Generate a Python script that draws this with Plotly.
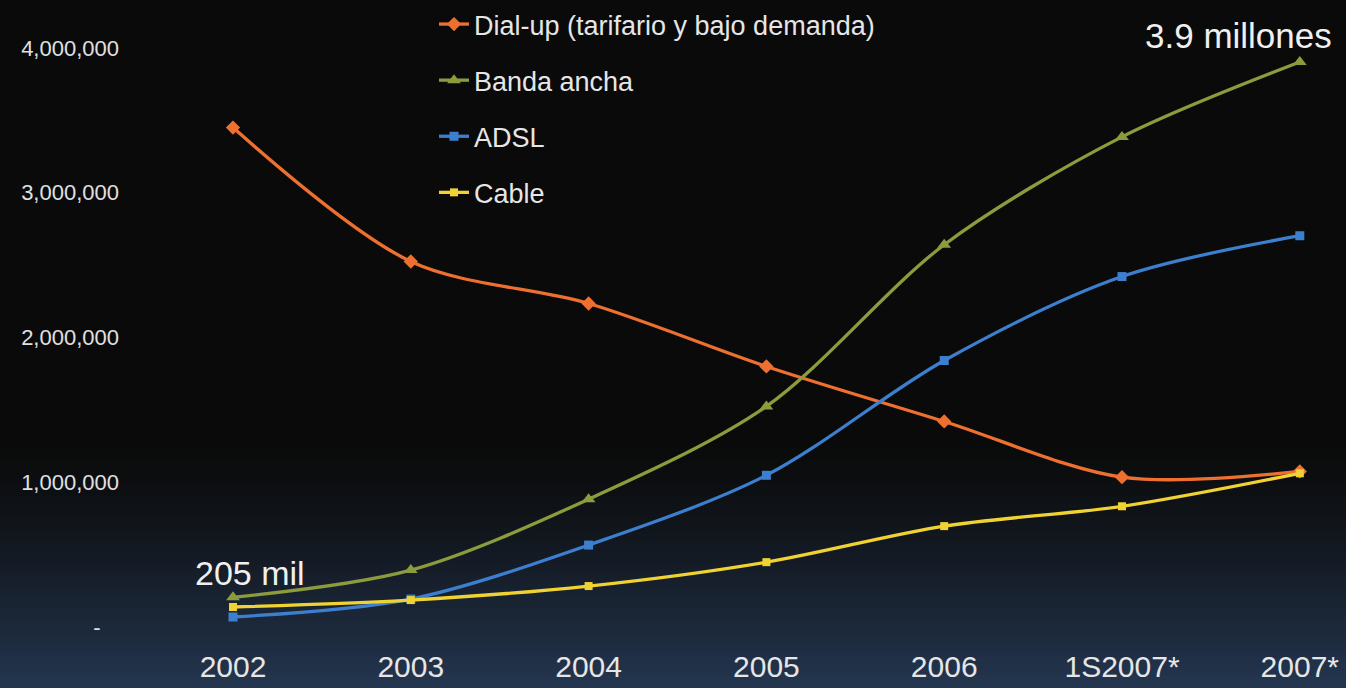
import plotly.graph_objects as go

categories = ["2002", "2003", "2004", "2005", "2006", "1S2007*", "2007*"]
dialup = [3450000, 2525000, 2235000, 1800000, 1420000, 1035000, 1075000]
banda_ancha = [205000, 393000, 883000, 1524000, 2641000, 3386000, 3903000]
adsl = [69000, 193000, 566000, 1048000, 1841000, 2421000, 2703000]
cable = [138000, 186000, 283000, 448000, 697000, 834000, 1062000]

y_tickvals = [0, 1000000, 2000000, 3000000, 4000000]
y_ticktext = ["-\u00a0\u00a0\u00a0", "1,000,000", "2,000,000", "3,000,000", "4,000,000"]

series = [
    ("Dial-up (tarifario y bajo demanda)", dialup, "#ee7030", "diamond", 11),
    ("Banda ancha", banda_ancha, "#8c9c3c", "triangle-up", 12),
    ("ADSL", adsl, "#3d7fcf", "square", 9),
    ("Cable", cable, "#f0d232", "square", 8),
]

FONT = "Liberation Sans, Arial, sans-serif"

fig = go.Figure()
for i, (name, vals, color, sym, size) in enumerate(series):
    fig.add_trace(go.Scatter(
        x=categories, y=vals, name=name, mode="lines+markers",
        line=dict(color=color, width=3.3, shape="spline", smoothing=0.9),
        marker=dict(color=color, symbol=sym, size=size),
        legendgroup=f"g{i}",
    ))

# gradient background bands (paper coords)
W, H = 1346, 688
ml, mr, mt, mb = 150, 0, 0, 50
pw, ph = W - ml - mr, H - mt - mb
top_px, bot_px = 440, 688
c0 = (10, 10, 10)
c1 = (36, 54, 80)
n = 40
shapes = []
for k in range(n):
    p0 = top_px + (bot_px - top_px) * k / n
    p1 = top_px + (bot_px - top_px) * (k + 1) / n + 1
    t = (k + 0.5) / n
    t = t ** 1.3
    col = tuple(int(round(c0[j] + (c1[j] - c0[j]) * t)) for j in range(3))
    shapes.append(dict(
        type="rect", xref="paper", yref="paper", layer="below",
        x0=-ml / pw, x1=1 + mr / pw,
        y0=(H - mb - p1) / ph, y1=(H - mb - p0) / ph,
        fillcolor="rgb(%d,%d,%d)" % col, line=dict(width=0),
    ))

zero_px = 627
px_per_unit = 144.75 / 1e6
y_min = -(H - mb - zero_px) / px_per_unit
y_max = y_min + ph / px_per_unit

fig.update_layout(
    width=W, height=H,
    margin=dict(l=ml, r=mr, t=mt, b=mb, pad=0),
    paper_bgcolor="#0a0a0a",
    plot_bgcolor="rgba(0,0,0,0)",
    shapes=shapes,
    font=dict(family=FONT, color="#e6e6e6"),
    showlegend=True,
    legend=dict(
        x=(434 - ml) / pw, xanchor="left", y=1.0, yanchor="top",
        font=dict(size=27, color="#e6e6e6", family=FONT),
        bgcolor="rgba(0,0,0,0)", traceorder="grouped", tracegroupgap=18,
        itemwidth=30,
    ),
    xaxis=dict(
        type="category", range=[(ml - 233) / 177.8, (W - 233) / 177.8],
        showgrid=False, zeroline=False, showline=False, ticks="",
        tickfont=dict(size=30, color="#e6e6e6", family=FONT),
        ticklabelstandoff=8,
    ),
    yaxis=dict(
        range=[y_min, y_max],
        tickvals=y_tickvals, ticktext=y_ticktext,
        showgrid=False, zeroline=False, showline=False, ticks="",
        tickfont=dict(size=22, color="#e0e0e0", family=FONT),
        ticklabelstandoff=30,
    ),
    annotations=[
        dict(x=categories.index("2002"), y=banda_ancha[0], xref="x", yref="y", text="205 mil",
             showarrow=False, xanchor="left", yanchor="middle", xshift=-40, yshift=24,
             font=dict(size=34, color="#f0f0f0", family=FONT)),
        dict(x=categories.index("2007*"), y=banda_ancha[-1], xref="x", yref="y", text="3.9 millones",
             showarrow=False, xanchor="right", yanchor="middle", xshift=34, yshift=27,
             font=dict(size=35, color="#f0f0f0", family=FONT)),
    ],
)
fig.write_html("out.html", config={"displayModeBar": False},
               post_script="document.body.style.margin='0';document.body.style.overflow='hidden';")
